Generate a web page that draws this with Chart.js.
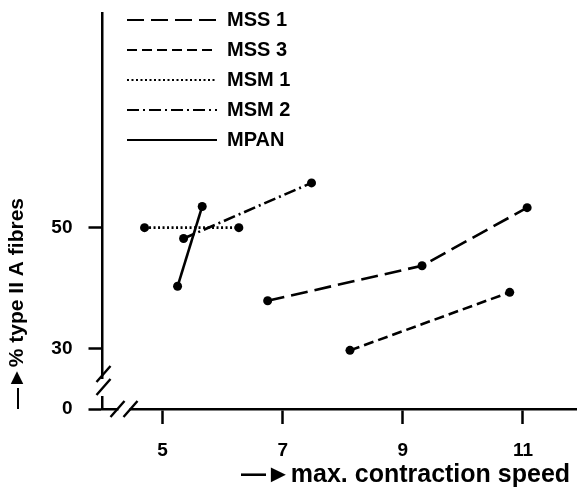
<!DOCTYPE html>
<html lang="en">
<head>
    <meta charset="UTF-8">
    <title>Type II A fibres vs contraction speed</title>
    <script src="https://cdn.jsdelivr.net/npm/chart.js"></script>
    <style>
        html, body { margin: 0; padding: 0; background: #fff; }
        #wrap { width: 577px; height: 493px; position: relative; }
    </style>
</head>
<body>
    <div id="wrap"><canvas id="chart"></canvas></div>

    <script>
        // series (x = max. contraction speed, y = % type II A fibres)
        const seriesNames = ['MSS 1', 'MSS 3', 'MSM 1', 'MSM 2', 'MPAN'];
        const mss1X = [6.75, 9.32, 11.07];
        const mss1Y = [37.9, 43.7, 53.3];
        const mss3X = [8.12, 10.78];
        const mss3Y = [29.7, 39.3];
        const msm1X = [4.7, 6.27];
        const msm1Y = [50, 50];
        const msm2X = [5.35, 7.48];
        const msm2Y = [48.2, 57.4];
        const mpanX = [5.25, 5.66];
        const mpanY = [40.3, 53.5];

        const xTicks = [5, 7, 9, 11];
        const yTicks = [0, 30, 50];
        // the y axis is broken below 30; the "0" tick sits where 20 would be
        const Y_BREAK = 20;

        const dashes = [[17, 7], [10, 5], [2, 2.5], [12, 4, 2, 4], []];
        const font = 'Liberation Sans, Arial, sans-serif';

        function pts(xs, ys) {
            return xs.map((x, i) => ({ x: x, y: ys[i] }));
        }
        const allData = [pts(mss1X, mss1Y), pts(mss3X, mss3Y), pts(msm1X, msm1Y), pts(msm2X, msm2Y), pts(mpanX, mpanY)];

        const datasets = seriesNames.map((name, i) => ({
            label: name,
            data: allData[i],
            borderColor: '#000',
            backgroundColor: '#000',
            borderWidth: 2.6,
            borderDash: dashes[i],
            pointRadius: 4.5,
            pointBorderWidth: 0,
            pointBackgroundColor: '#000',
            showLine: true,
            tension: 0
        }));

        // no extra room for edge labels, the axes run to the edges
        function noPad(s) {
            s.paddingTop = 0;
            s.paddingBottom = 0;
            s.paddingLeft = 0;
            s.paddingRight = 0;
        }

        // axis breaks and legend placement
        const breaks = {
            id: 'breaks',
            afterLayout(chart) {
                const lg = chart.legend;
                lg.left = chart.chartArea.left + 14.5;
                lg.top = 0;
            },
            afterDraw(chart) {
                const ctx = chart.ctx;
                const a = chart.chartArea;
                ctx.save();
                ctx.fillStyle = '#fff';
                ctx.fillRect(a.left - 4, a.bottom - 30, 8, 17);
                ctx.fillRect(a.left + 16, a.bottom - 4, 11, 8);
                ctx.strokeStyle = '#000';
                ctx.lineWidth = 2.4;
                const slash = (cx, cy) => {
                    ctx.beginPath();
                    ctx.moveTo(cx - 7, cy + 8);
                    ctx.lineTo(cx + 7, cy - 8);
                    ctx.stroke();
                };
                slash(a.left + 1, a.bottom - 35);
                slash(a.left + 1, a.bottom - 22);
                slash(a.left + 15, a.bottom);
                slash(a.left + 28, a.bottom);
                ctx.restore();
            }
        };

        new Chart(document.getElementById('chart'), {
            type: 'scatter',
            data: { datasets: datasets },
            plugins: [breaks],
            options: {
                responsive: true,
                maintainAspectRatio: false,
                animation: false,
                layout: { autoPadding: false, padding: { top: 13, right: 0, left: 0, bottom: 0 } },
                plugins: {
                    tooltip: { enabled: false },
                    legend: {
                        position: 'chartArea',
                        align: 'start',
                        labels: {
                            usePointStyle: true,
                            pointStyleWidth: 90,
                            boxHeight: 20,
                            padding: 10,
                            color: '#000',
                            font: { family: font, size: 20, weight: 'bold' },
                            generateLabels: chart => chart.data.datasets.map((ds, i) => ({
                                text: ds.label,
                                strokeStyle: '#000',
                                fillStyle: '#000',
                                fontColor: '#000',
                                lineWidth: 2.2,
                                lineDash: ds.borderDash,
                                pointStyle: 'line',
                                datasetIndex: i
                            }))
                        }
                    }
                },
                scales: {
                    x: {
                        type: 'linear',
                        min: 4,
                        max: 11.9,
                        afterFit: s => { s.height = 84; noPad(s); },
                        afterBuildTicks: s => { s.ticks = xTicks.map(v => ({ value: v })); },
                        grid: { drawOnChartArea: false, tickLength: 15, tickWidth: 2.5, color: '#000' },
                        border: { display: true, color: '#000', width: 2.5 },
                        ticks: {
                            color: '#000',
                            padding: 15,
                            autoSkip: false,
                            maxRotation: 0,
                            font: { family: font, size: 19, weight: 'bold' }
                        },
                        title: {
                            display: true,
                            text: '—►max. contraction speed ',
                            align: 'end',
                            color: '#000',
                            padding: { top: 0, bottom: 3 },
                            font: { family: font, size: 25, weight: 'bold' }
                        }
                    },
                    y: {
                        type: 'linear',
                        min: Y_BREAK,
                        max: 85.5,
                        afterFit: s => { s.width = 102.5; noPad(s); },
                        afterBuildTicks: s => { s.ticks = yTicks.map(v => ({ value: v === 0 ? Y_BREAK : v })); },
                        grid: { drawOnChartArea: false, tickLength: 14, tickWidth: 2.5, color: '#000' },
                        border: { display: true, color: '#000', width: 2.5 },
                        ticks: {
                            color: '#000',
                            padding: 16,
                            autoSkip: false,
                            font: { family: font, size: 19, weight: 'bold' },
                            callback: (value, index) => yTicks[index]
                        },
                        title: {
                            display: true,
                            text: '—►% type II A fibres',
                            align: 'start',
                            color: '#000',
                            padding: { top: 5, bottom: 0 },
                            font: { family: font, size: 21, weight: 'bold' }
                        }
                    }
                }
            }
        });
    </script>
</body>
</html>
